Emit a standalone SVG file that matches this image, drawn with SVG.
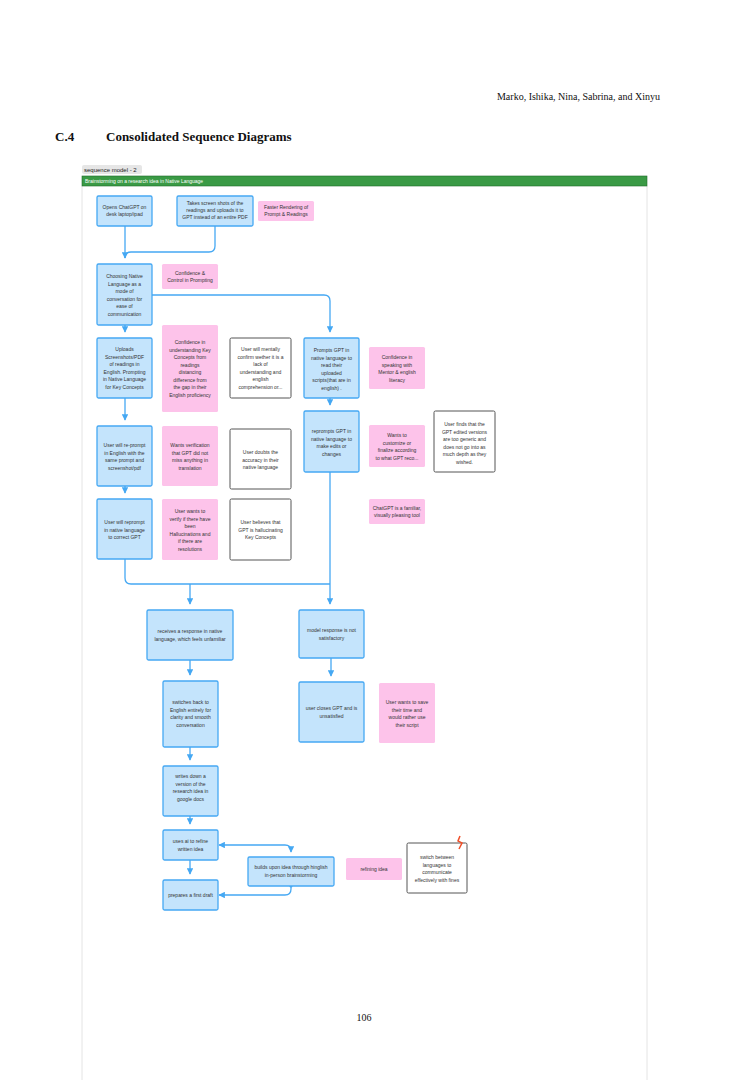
<svg xmlns="http://www.w3.org/2000/svg" width="729" height="1080" viewBox="0 0 729 1080">
<style>
.b{fill:#c4e4fc;stroke:#45a8f3;stroke-width:1.3}
.p{fill:#fdc3ea;stroke:none}
.w{fill:#fff;stroke:#555;stroke-width:1}
.t{font-family:"Liberation Sans",Arial,sans-serif;font-size:5px;fill:#333;text-anchor:middle}
.c{fill:none;stroke:#45a8f3;stroke-width:1.3}
</style>
<defs><marker id="a" viewBox="0 0 10 10" refX="9" refY="5" markerWidth="5" markerHeight="5" orient="auto-start-reverse"><path d="M0 0L10 5L0 10z" fill="#45a8f3"/></marker></defs>
<rect width="729" height="1080" fill="#fff"/>
<text x="660" y="100" font-family="Liberation Serif,serif" font-size="10" text-anchor="end" fill="#111">Marko, Ishika, Nina, Sabrina, and Xinyu</text>
<text x="55" y="141" font-family="Liberation Serif,serif" font-size="13" font-weight="bold" fill="#111">C.4<tspan x="106">Consolidated Sequence Diagrams</tspan></text>
<path d="M82 186V1080M647 186V1080" stroke="#e4e4e4" stroke-width="1"/>
<rect x="82" y="165" width="60" height="9" rx="2" fill="#e6e6e6"/>
<text x="84" y="172" font-family="Liberation Sans,sans-serif" font-size="6" fill="#222">sequence model - 2</text>
<rect x="82" y="176" width="565" height="10" fill="#3a9a45" stroke="#1f6b2a" stroke-width="0.6"/>
<text x="85" y="183" font-family="Liberation Sans,sans-serif" font-size="5" fill="#fff">Brainstorming on a research idea in Native Language</text>
<g id="connectors">
<path class="c" d="M125 226V258" marker-end="url(#a)"/>
<path class="c" d="M215 226V246Q215 252 209 252H131Q125 252 125 258"/>
<path class="c" d="M152 295H324Q330 295 330 301V332" marker-end="url(#a)"/>
<path class="c" d="M125 325V332" marker-end="url(#a)"/>
<path class="c" d="M125 398V420" marker-end="url(#a)"/>
<path class="c" d="M125 486V493" marker-end="url(#a)"/>
<path class="c" d="M330 398V405" marker-end="url(#a)"/>
<path class="c" d="M125 559V578Q125 584 131 584H330"/>
<path class="c" d="M190 584V604" marker-end="url(#a)"/>
<path class="c" d="M330 472V604" marker-end="url(#a)"/>
<path class="c" d="M190 660V675" marker-end="url(#a)"/>
<path class="c" d="M331 658V676" marker-end="url(#a)"/>
<path class="c" d="M190 747V760" marker-end="url(#a)"/>
<path class="c" d="M190 816V824" marker-end="url(#a)"/>
<path class="c" d="M190 860V874" marker-end="url(#a)"/>
<path class="c" d="M219 845H285Q291 845 291 851V852" marker-start="url(#a)" marker-end="url(#a)"/>
<path class="c" d="M291 886V889Q291 895 285 895H219" marker-end="url(#a)"/>
<circle cx="291" cy="886" r="1.6" fill="#45a8f3"/>
</g>
<g id="n1"><rect class="b" x="97" y="196" width="55" height="30" rx="1.5"/><text class="t" x="124.5" y="209">Opens ChatGPT on</text><text class="t" x="124.5" y="216">desk laptop/ipad</text></g>
<g id="n2"><rect class="b" x="177" y="196" width="76" height="30" rx="1.5"/><text class="t" x="215" y="205">Takes screen shots of the</text><text class="t" x="215" y="212">readings and uploads it to</text><text class="t" x="215" y="219">GPT instead of an entire PDF</text></g>
<g id="p1"><rect class="p" x="258" y="201" width="56" height="20" rx="1.5"/><text class="t" x="286" y="209">Faster Rendering of</text><text class="t" x="286" y="216">Prompt &amp; Readings</text></g>
<g id="n3"><rect class="b" x="97" y="264" width="55" height="61" rx="1.5"/><text class="t" x="124.5" y="278">Choosing Native</text><text class="t" x="124.5" y="285.5">Language as a</text><text class="t" x="124.5" y="293">mode of</text><text class="t" x="124.5" y="300.5">conversation for</text><text class="t" x="124.5" y="308">ease of</text><text class="t" x="124.5" y="315.5">communication</text></g>
<g id="p2"><rect class="p" x="162" y="264" width="56" height="25" rx="1.5"/><text class="t" x="190" y="275">Confidence &amp;</text><text class="t" x="190" y="282">Control in Prompting</text></g>
<g id="n4"><rect class="b" x="97" y="338" width="55" height="60" rx="1.5"/><text class="t" x="124.5" y="351">Uploads</text><text class="t" x="124.5" y="358.5">Screenshots/PDF</text><text class="t" x="124.5" y="366">of readings in</text><text class="t" x="124.5" y="373.5">English. Prompting</text><text class="t" x="124.5" y="381">in Native Language</text><text class="t" x="124.5" y="388.5">for Key Concepts</text></g>
<g id="p3"><rect class="p" x="162" y="325" width="56" height="87" rx="1.5"/><text class="t" x="190" y="344">Confidence in</text><text class="t" x="190" y="351.5">understanding Key</text><text class="t" x="190" y="359">Concepts from</text><text class="t" x="190" y="366.5">readings</text><text class="t" x="190" y="374">distancing</text><text class="t" x="190" y="381.5">difference from</text><text class="t" x="190" y="389">the gap in their</text><text class="t" x="190" y="396.5">English proficiency</text></g>
<g id="w1"><rect class="w" x="230" y="338" width="61" height="60" rx="1.5"/><text class="t" x="260.5" y="351">User will mentally</text><text class="t" x="260.5" y="358.5">confirm wether it is a</text><text class="t" x="260.5" y="366">lack of</text><text class="t" x="260.5" y="373.5">understanding and</text><text class="t" x="260.5" y="381">english</text><text class="t" x="260.5" y="388.5">comprehension or...</text></g>
<g id="n5"><rect class="b" x="304" y="338" width="55" height="60" rx="1.5"/><text class="t" x="331.5" y="352">Prompts GPT in</text><text class="t" x="331.5" y="359.5">native language to</text><text class="t" x="331.5" y="367">read their</text><text class="t" x="331.5" y="374.5">uploaded</text><text class="t" x="331.5" y="382">scripts(that are in</text><text class="t" x="331.5" y="389.5">english) .</text></g>
<g id="p4"><rect class="p" x="369" y="347" width="56" height="42" rx="1.5"/><text class="t" x="397" y="359">Confidence in</text><text class="t" x="397" y="366.5">speaking with</text><text class="t" x="397" y="374">Mentor &amp; english</text><text class="t" x="397" y="381.5">literacy</text></g>
<g id="n6"><rect class="b" x="97" y="426" width="55" height="60" rx="1.5"/><text class="t" x="124.5" y="447">User will re-prompt</text><text class="t" x="124.5" y="454.5">in English with the</text><text class="t" x="124.5" y="462">same prompt and</text><text class="t" x="124.5" y="469.5">screenshot/pdf</text></g>
<g id="p5"><rect class="p" x="162" y="426" width="56" height="60" rx="1.5"/><text class="t" x="190" y="447">Wants verification</text><text class="t" x="190" y="454.5">that GPT did not</text><text class="t" x="190" y="462">miss anything in</text><text class="t" x="190" y="469.5">translation</text></g>
<g id="w2"><rect class="w" x="230" y="429" width="61" height="60" rx="1.5"/><text class="t" x="260.5" y="454">User doubts the</text><text class="t" x="260.5" y="461.5">accuracy in their</text><text class="t" x="260.5" y="469">native language</text></g>
<g id="n7"><rect class="b" x="304" y="411" width="55" height="61" rx="1.5"/><text class="t" x="331.5" y="433">reprompts GPT in</text><text class="t" x="331.5" y="440.5">native language to</text><text class="t" x="331.5" y="448">make edits or</text><text class="t" x="331.5" y="455.5">changes</text></g>
<g id="p6"><rect class="p" x="369" y="425" width="56" height="42" rx="1.5"/><text class="t" x="397" y="437">Wants to</text><text class="t" x="397" y="444.5">customize or</text><text class="t" x="397" y="452">finalize according</text><text class="t" x="397" y="459.5">to what GPT reco...</text></g>
<g id="w3"><rect class="w" x="434" y="411" width="61" height="61" rx="1.5"/><text class="t" x="464.5" y="426">User finds that the</text><text class="t" x="464.5" y="433.5">GPT edited versions</text><text class="t" x="464.5" y="441">are too generic and</text><text class="t" x="464.5" y="448.5">does not go into as</text><text class="t" x="464.5" y="456">much depth as they</text><text class="t" x="464.5" y="463.5">wished.</text></g>
<g id="n8"><rect class="b" x="97" y="499" width="55" height="60" rx="1.5"/><text class="t" x="124.5" y="524">User will reprompt</text><text class="t" x="124.5" y="531.5">in native language</text><text class="t" x="124.5" y="539">to correct GPT</text></g>
<g id="p7"><rect class="p" x="162" y="499" width="56" height="61" rx="1.5"/><text class="t" x="190" y="513">User wants to</text><text class="t" x="190" y="520.5">verify if there have</text><text class="t" x="190" y="528">been</text><text class="t" x="190" y="535.5">Hallucinations and</text><text class="t" x="190" y="543">if there are</text><text class="t" x="190" y="550.5">resolutions</text></g>
<g id="w4"><rect class="w" x="230" y="499" width="61" height="61" rx="1.5"/><text class="t" x="260.5" y="524">User believes that</text><text class="t" x="260.5" y="531.5">GPT is hallucinating</text><text class="t" x="260.5" y="539">Key Concepts</text></g>
<g id="p8"><rect class="p" x="369" y="499" width="56" height="25" rx="1.5"/><text class="t" x="397" y="510">ChatGPT is a familiar,</text><text class="t" x="397" y="517">visually pleasing tool</text></g>
<g id="n9"><rect class="b" x="147" y="610" width="86" height="50" rx="1.5"/><text class="t" x="190" y="633">receives a response in native</text><text class="t" x="190" y="640.5">language, which feels unfamiliar</text></g>
<g id="n10"><rect class="b" x="299" y="610" width="65" height="48" rx="1.5"/><text class="t" x="331.5" y="632">model response is not</text><text class="t" x="331.5" y="639.5">satisfactory</text></g>
<g id="n11"><rect class="b" x="163" y="681" width="55" height="66" rx="1.5"/><text class="t" x="190.5" y="704">switches back to</text><text class="t" x="190.5" y="711.5">English entirely for</text><text class="t" x="190.5" y="719">clarity and smooth</text><text class="t" x="190.5" y="726.5">conversation</text></g>
<g id="n12"><rect class="b" x="299" y="682" width="65" height="60" rx="1.5"/><text class="t" x="331.5" y="710">user closes GPT and is</text><text class="t" x="331.5" y="717.5">unsatisfied</text></g>
<g id="p9"><rect class="p" x="379" y="683" width="56" height="60" rx="1.5"/><text class="t" x="407" y="704">User wants to save</text><text class="t" x="407" y="711.5">their time and</text><text class="t" x="407" y="719">would rather use</text><text class="t" x="407" y="726.5">their script</text></g>
<g id="n13"><rect class="b" x="163" y="766" width="55" height="50" rx="1.5"/><text class="t" x="190.5" y="778">writes down a</text><text class="t" x="190.5" y="785.5">version of the</text><text class="t" x="190.5" y="793">research idea in</text><text class="t" x="190.5" y="800.5">google docs</text></g>
<g id="n14"><rect class="b" x="163" y="830" width="55" height="30" rx="1.5"/><text class="t" x="190.5" y="843">uses ai to refine</text><text class="t" x="190.5" y="850.5">written idea</text></g>
<g id="n15"><rect class="b" x="248" y="857" width="86" height="29" rx="1.5"/><text class="t" x="291" y="869">builds upon idea through hinglish</text><text class="t" x="291" y="876.5">in-person brainstorming</text></g>
<g id="p10"><rect class="p" x="346" y="858" width="56" height="22" rx="1.5"/><text class="t" x="374" y="871">refining idea</text></g>
<g id="w5"><rect class="w" x="407" y="843" width="60" height="50" rx="1.5"/><text class="t" x="437" y="859">switch between</text><text class="t" x="437" y="866.5">languages to</text><text class="t" x="437" y="874">communicate</text><text class="t" x="437" y="881.5">effectively with fines</text><path d="M460 836L458 841L462 843L459 849" fill="none" stroke="#f0502a" stroke-width="1.5"/></g>
<g id="n16"><rect class="b" x="163" y="880" width="55" height="30" rx="1.5"/><text class="t" x="190.5" y="897">prepares a first draft</text></g>
<text x="364" y="1021" font-family="Liberation Serif,serif" font-size="10" text-anchor="middle" fill="#111">106</text>
</svg>
